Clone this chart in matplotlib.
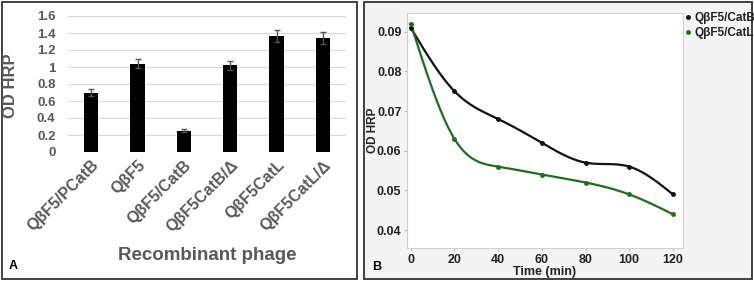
import numpy as np
import matplotlib
matplotlib.use("Agg")
import matplotlib.pyplot as plt
from matplotlib.patches import Rectangle
from matplotlib.lines import Line2D

# ---- Data ----
phages = ["QβF5/PCatB", "QβF5", "QβF5/CatB", "QβF5CatB/Δ", "QβF5CatL", "QβF5CatL/Δ"]
od_values = [0.70, 1.04, 0.25, 1.02, 1.36, 1.34]
od_errors = [0.04, 0.05, 0.015, 0.05, 0.07, 0.07]
bar_yticks = [0, 0.2, 0.4, 0.6, 0.8, 1.0, 1.2, 1.4, 1.6]
bar_yticklabels = ["0", "0.2", "0.4", "0.6", "0.8", "1", "1.2", "1.4", "1.6"]

time_min = [0, 20, 40, 60, 80, 100, 120]
catB = [0.091, 0.075, 0.068, 0.062, 0.057, 0.056, 0.049]
catL = [0.092, 0.063, 0.056, 0.054, 0.052, 0.049, 0.044]
line_yticks = [0.04, 0.05, 0.06, 0.07, 0.08, 0.09]
line_xticks = [0, 20, 40, 60, 80, 100, 120]

W, H = 754, 281
fig = plt.figure(figsize=(W / 100, H / 100), dpi=100)
fig.patch.set_facecolor("white")

def fx(px):
    return px / W

def fy(py):
    return 1 - py / H

GRAY = "#595959"
FONT = "Liberation Sans"

# Panel backgrounds / borders
fig.patches.append(Rectangle((fx(364), fy(279)), fx(752 - 364), (279 - 2) / H,
                             transform=fig.transFigure, facecolor="#f4f4f4",
                             edgecolor="#333333", lw=1.3, zorder=-10))
fig.patches.append(Rectangle((fx(2), fy(279)), fx(357 - 2), (279 - 2) / H,
                             transform=fig.transFigure, facecolor="white",
                             edgecolor="#333333", lw=1.3, zorder=-10))

# ---- Panel A: bar chart ----
ax1 = fig.add_axes([fx(68), fy(152), fx(346 - 68), (152 - 16) / H])
ax1.set_facecolor("none")
x = np.arange(len(phages))
ax1.bar(x, od_values, width=0.31, color="black", zorder=3)
ax1.errorbar(x, od_values, yerr=od_errors, fmt="none", ecolor="#555555",
             elinewidth=1, capsize=2.5, capthick=1, zorder=4)
ax1.set_xlim(-0.5, len(phages) - 0.5)
ax1.set_ylim(0, 1.6)
ax1.set_yticks(bar_yticks)
ax1.set_yticklabels(bar_yticklabels, fontsize=9.5, fontweight="bold", color=GRAY, family=FONT)
ax1.yaxis.grid(True, color="#d9d9d9", lw=0.8, zorder=0)
ax1.set_axisbelow(True)
for s in ax1.spines.values():
    s.set_visible(False)
ax1.tick_params(axis="y", length=0, pad=9)
ax1.tick_params(axis="x", length=0, pad=4)
ax1.set_xticks(x)
ax1.set_xticklabels(phages, rotation=45, ha="right", rotation_mode="anchor",
                    fontsize=11.5, fontweight="bold", color=GRAY, family=FONT)
fig.text(fx(207), fy(255), "Recombinant phage", ha="center", va="center",
         fontsize=13.5, fontweight="bold", color=GRAY, family=FONT)
fig.text(fx(11), fy(86), "OD HRP", ha="center", va="center", rotation=90,
         fontsize=12, fontweight="bold", color=GRAY, family=FONT)
fig.text(fx(9), fy(266), "A", ha="left", va="center", fontsize=9,
         fontweight="bold", color="black", family=FONT)

# ---- Panel B: line chart ----
def spline(xs, ys, n=300):
    xs = np.asarray(xs, float)
    ys = np.asarray(ys, float)
    k = len(xs)
    h = np.diff(xs)
    A = np.zeros((k, k))
    b = np.zeros(k)
    A[0, 0] = A[-1, -1] = 1
    for i in range(1, k - 1):
        A[i, i - 1] = h[i - 1]
        A[i, i] = 2 * (h[i - 1] + h[i])
        A[i, i + 1] = h[i]
        b[i] = 6 * ((ys[i + 1] - ys[i]) / h[i] - (ys[i] - ys[i - 1]) / h[i - 1])
    M = np.linalg.solve(A, b)
    xx = np.linspace(xs[0], xs[-1], n)
    yy = np.empty_like(xx)
    for j, t in enumerate(xx):
        i = min(np.searchsorted(xs, t, side="right") - 1, k - 2)
        a = xs[i + 1] - t
        c = t - xs[i]
        yy[j] = (M[i] * a ** 3 + M[i + 1] * c ** 3) / (6 * h[i]) + \
                (ys[i] / h[i] - M[i] * h[i] / 6) * a + \
                (ys[i + 1] / h[i] - M[i + 1] * h[i] / 6) * c
    return xx, yy

ax2 = fig.add_axes([fx(407), fy(248), fx(683 - 407), (248 - 13) / H])
ax2.set_facecolor("white")
colB = "#111111"
colL = "#1f6e1f"
for data, col in [(catB, colB), (catL, colL)]:
    xx, yy = spline(time_min, data)
    ax2.plot(xx, yy, color=col, lw=1.6, zorder=3)
    ax2.plot(time_min, data, "o", color=col, ms=2.5, zorder=4)
ax2.set_xlim(-1.7, 124.6)
ax2.set_ylim(0.0355, 0.0947)
ax2.set_xticks(line_xticks)
ax2.set_yticks(line_yticks)
ax2.set_xticklabels([str(v) for v in line_xticks], fontsize=9, fontweight="bold",
                    color="#222222", family=FONT)
ax2.set_yticklabels([f"{v:.2f}" for v in line_yticks], fontsize=9, fontweight="bold",
                    color="#222222", family=FONT)
for s in ax2.spines.values():
    s.set_color("#d0d0d0")
    s.set_linewidth(0.8)
ax2.tick_params(axis="both", length=2, color="#bbbbbb", pad=2)
ax2.set_xlabel("Time (min)", fontsize=9, fontweight="bold", color="#222222",
               family=FONT, labelpad=0)
fig.text(fx(373), fy(130), "OD HRP", ha="center", va="center", rotation=90,
         fontsize=8.5, fontweight="bold", color="#222222", family=FONT)
fig.text(fx(372), fy(267), "B", ha="left", va="center", fontsize=9,
         fontweight="bold", color="black", family=FONT)

handles = [Line2D([], [], ls="none", marker="o", ms=2.5, color=colB),
           Line2D([], [], ls="none", marker="o", ms=2.5, color=colL)]
leg = fig.legend(handles, ["QβF5/CatB", "QβF5/CatL"], loc="upper left",
                 bbox_to_anchor=(fx(684), fy(12)), frameon=False,
                 handlelength=0.6, handletextpad=0.3, labelspacing=0.25,
                 borderaxespad=0, borderpad=0,
                 prop={"family": FONT, "weight": "bold", "size": 8.5})
for t in leg.get_texts():
    t.set_color("#222222")

fig.savefig("out.png", dpi=100)
